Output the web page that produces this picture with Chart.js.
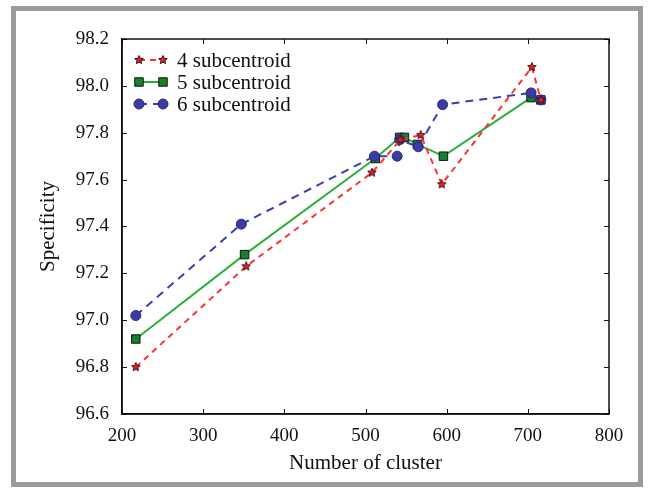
<!DOCTYPE html>
<html>
<head>
<meta charset="utf-8">
<script src="https://cdn.jsdelivr.net/npm/chart.js@4"></script>
<style>
    html, body { margin: 0; padding: 0; background: #fff; }
    #wrap { position: relative; width: 648px; height: 490px; }
    #frame {
        position: absolute; left: 11px; top: 6px; width: 622px; height: 471px;
        border: 5px solid #9b9b9b;
    }
    canvas { position: absolute; left: 0; top: 0; }
</style>
</head>
<body>
<div id="wrap">
    <div id="frame"></div>
    <canvas id="chart" width="648" height="490"></canvas>
</div>
<script>
// values
const seriesLabels = ['4 subcentroid', '5 subcentroid', '6 subcentroid'];

const clusters4 = [217, 353, 508, 543, 568, 594, 705, 716];
const spec4 = [96.80, 97.23, 97.63, 97.77, 97.79, 97.58, 98.08, 97.94];

const clusters5 = [217, 351, 512, 542, 548, 564, 596, 704, 716];
const spec5 = [96.92, 97.28, 97.69, 97.78, 97.78, 97.75, 97.70, 97.95, 97.94];

const clusters6 = [217, 347, 511, 539, 542, 565, 595, 704, 716];
const spec6 = [97.02, 97.41, 97.70, 97.70, 97.77, 97.74, 97.92, 97.97, 97.94];

const xTicks = [200, 300, 400, 500, 600, 700, 800];
const yTicks = [96.6, 96.8, 97.0, 97.2, 97.4, 97.6, 97.8, 98.0, 98.2];

const toPoints = (xs, ys) => xs.map((x, i) => ({ x: x, y: ys[i] }));

// small filled star used as marker
function makeStar(size) {
    const c = document.createElement('canvas');
    c.width = size; c.height = size;
    const g = c.getContext('2d');
    const cx = size / 2, cy = size / 2, ro = size / 2 - 0.5, ri = ro * 0.45;
    g.beginPath();
    for (let i = 0; i < 10; i++) {
        const r = i % 2 ? ri : ro;
        const a = -Math.PI / 2 + i * Math.PI / 5;
        g.lineTo(cx + r * Math.cos(a), cy + r * Math.sin(a));
    }
    g.closePath();
    g.fillStyle = '#e8202a';
    g.fill();
    g.strokeStyle = '#3a1010';
    g.lineWidth = 1;
    g.stroke();
    return c;
}
const starImg = makeStar(10);

const serif = "'Liberation Serif', 'DejaVu Serif', serif";

// inward ticks on all four sides plus top/right frame
const frameTicks = {
    id: 'frameTicks',
    afterDraw(chart) {
        const { ctx, chartArea: a, scales } = chart;
        ctx.save();
        ctx.strokeStyle = '#111';
        ctx.lineWidth = 1.5;
        ctx.strokeRect(a.left, a.top, a.right - a.left, a.bottom - a.top);
        ctx.lineWidth = 1;
        const len = 5;
        xTicks.forEach(v => {
            const px = Math.round(scales.x.getPixelForValue(v)) + 0.5;
            ctx.beginPath();
            ctx.moveTo(px, a.bottom); ctx.lineTo(px, a.bottom - len);
            ctx.moveTo(px, a.top); ctx.lineTo(px, a.top + len);
            ctx.stroke();
        });
        yTicks.forEach(v => {
            const py = Math.round(scales.y.getPixelForValue(v)) + 0.5;
            ctx.beginPath();
            ctx.moveTo(a.left, py); ctx.lineTo(a.left + len, py);
            ctx.moveTo(a.right, py); ctx.lineTo(a.right - len, py);
            ctx.stroke();
        });
        ctx.restore();
    }
};

// legend with a short line and a marker at each end
const sampleLegend = {
    id: 'sampleLegend',
    afterDraw(chart) {
        const { ctx } = chart;
        const x0 = 139, x1 = 163, textX = 177;
        const rows = [60, 82, 104];
        ctx.save();
        chart.data.datasets.forEach((ds, i) => {
            const y = rows[i];
            ctx.strokeStyle = ds.borderColor;
            ctx.lineWidth = ds.borderWidth;
            ctx.setLineDash(ds.borderDash || []);
            ctx.beginPath();
            ctx.moveTo(x0, y); ctx.lineTo(x1, y);
            ctx.stroke();
            ctx.setLineDash([]);
            [x0, x1].forEach(px => {
                if (ds.pointStyle instanceof HTMLCanvasElement) {
                    ctx.drawImage(ds.pointStyle, px - ds.pointStyle.width / 2, y - ds.pointStyle.height / 2);
                    return;
                }
                ctx.fillStyle = ds.pointBackgroundColor;
                ctx.strokeStyle = ds.pointBorderColor;
                ctx.lineWidth = ds.pointBorderWidth;
                ctx.beginPath();
                if (ds.pointStyle === 'rect') {
                    const r = ds.pointRadius * Math.SQRT1_2;
                    ctx.rect(px - r, y - r, 2 * r, 2 * r);
                } else {
                    ctx.arc(px, y, ds.pointRadius, 0, Math.PI * 2);
                }
                ctx.fill();
                ctx.stroke();
            });
            ctx.fillStyle = '#111';
            ctx.font = '21px ' + serif;
            ctx.textBaseline = 'middle';
            ctx.fillText(ds.label, textX, y + 1);
        });
        ctx.restore();
    }
};

const ctx = document.getElementById('chart').getContext('2d');
const chart = new Chart(ctx, {
    type: 'line',
    data: {
        datasets: [
            {
                label: seriesLabels[0],
                data: toPoints(clusters4, spec4),
                borderColor: '#ff3030',
                borderWidth: 2,
                borderDash: [6, 5],
                pointStyle: starImg,
                pointRadius: 5,
                tension: 0,
                order: 0
            },
            {
                label: seriesLabels[1],
                data: toPoints(clusters5, spec5),
                borderColor: '#2fae3c',
                borderWidth: 2,
                pointStyle: 'rect',
                pointRadius: 6,
                pointBackgroundColor: '#17802a',
                pointBorderColor: '#101810',
                pointBorderWidth: 1,
                tension: 0,
                order: 2
            },
            {
                label: seriesLabels[2],
                data: toPoints(clusters6, spec6),
                borderColor: '#3c3cb0',
                borderWidth: 2,
                borderDash: [8, 6],
                pointStyle: 'circle',
                pointRadius: 5,
                pointBackgroundColor: '#3b3ba6',
                pointBorderColor: '#2a2a70',
                pointBorderWidth: 1,
                tension: 0,
                order: 1
            }
        ]
    },
    options: {
        responsive: false,
        animation: false,
        layout: { padding: { left: 0, top: 39, right: 39, bottom: 0 } },
        plugins: {
            legend: { display: false },
            tooltip: { enabled: false }
        },
        scales: {
            x: {
                type: 'linear',
                min: 200,
                max: 800,
                afterBuildTicks: s => { s.ticks = xTicks.map(v => ({ value: v })); },
                afterFit: s => { s.height = 76; },
                border: { display: true, color: '#111', width: 1.5 },
                grid: { drawOnChartArea: false, drawTicks: false },
                ticks: {
                    color: '#111',
                    padding: 11,
                    font: { family: serif, size: 19 }
                },
                title: {
                    display: true,
                    text: 'Number of cluster',
                    color: '#111',
                    padding: { top: 0, bottom: 14 },
                    font: { family: serif, size: 21 }
                }
            },
            y: {
                min: 96.6,
                max: 98.2,
                afterBuildTicks: s => { s.ticks = yTicks.map(v => ({ value: v })); },
                afterFit: s => { s.width = 122; },
                border: { display: true, color: '#111', width: 1.5 },
                grid: { drawOnChartArea: false, drawTicks: false },
                ticks: {
                    color: '#111',
                    padding: 13,
                    font: { family: serif, size: 19 },
                    callback: v => v.toFixed(1)
                },
                title: {
                    display: true,
                    text: 'Specificity',
                    color: '#111',
                    padding: { top: 36, bottom: 0 },
                    font: { family: serif, size: 21 }
                }
            }
        }
    },
    plugins: [frameTicks, sampleLegend]
});
</script>
</body>
</html>
